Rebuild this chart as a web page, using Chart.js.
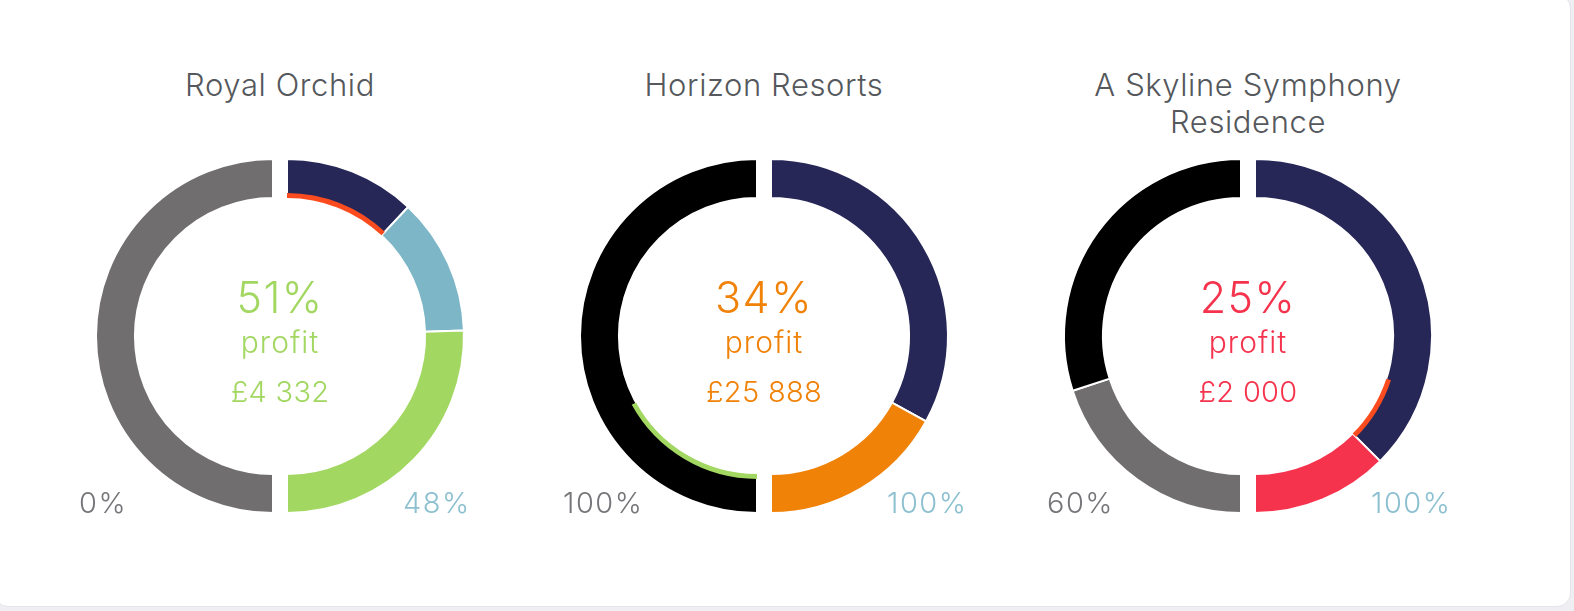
<!DOCTYPE html>
<html>
<head>
<meta charset="utf-8">
<script src="https://cdn.jsdelivr.net/npm/chart.js@4.4.1/dist/chart.umd.min.js"></script>
<style>
    body {
        margin: 0;
        width: 1574px;
        height: 611px;
        overflow: hidden;
        background: #eeeef3;
        font-family: 'Inter', 'Lato', sans-serif;
        font-weight: 300;
    }
    .card {
        position: absolute;
        left: -6px;
        top: -6px;
        width: 1577px;
        height: 613px;
        background: #fff;
        border: 1px solid #e4e4ea;
        border-radius: 14px;
        box-sizing: border-box;
    }
    .title {
        position: absolute;
        width: 360px;
        text-align: center;
        font-size: 31px;
        line-height: 37px;
        color: #55585c;
        letter-spacing: 0.6px;
    }
    .ring {
        position: absolute;
        width: 380px;
        height: 356px;
    }
    .center-text {
        position: absolute;
        width: 200px;
        text-align: center;
        white-space: nowrap;
    }
    .pct { font-size: 43px; line-height: 50px; letter-spacing: 1.5px; }
    .word { font-size: 30px; line-height: 36px; letter-spacing: 1px; }
    .amount { font-size: 29px; line-height: 36px; letter-spacing: 0.3px; }
    .side {
        position: absolute;
        font-size: 29px;
        line-height: 34px;
        letter-spacing: 1.5px;
        white-space: nowrap;
    }
    .side.left { color: #76767a; }
    .side.right { color: #8cc0d0; }
</style>
</head>
<body>
<div class="card"></div>
<div id="charts"></div>

<script>
// Data
const hotels = ['Royal Orchid', 'Horizon Resorts', 'A Skyline Symphony Residence'];
const profitPct = [51, 34, 25];
const profitAmount = ['£4 332', '£25 888', '£2 000'];
const leftLabels = ['0%', '100%', '60%'];
const rightLabels = ['48%', '100%', '100%'];

// Thick ring, clockwise from 12 o'clock: right half sums to 100, left half sums to 100
const ringValues = [
    [24, 25, 51, 100],
    [66, 34, 100],
    [75, 25, 40, 60]
];
// Thin marker ring on the inside edge, same layout
const markerValues = [
    [24, 76, 100],
    [100, 34, 66],
    [60, 15, 25, 100]
];

// Colours
const navy = '#262757';
const ringColors = [
    [navy, '#7db6c7', '#a2d762', '#706e6f'],
    [navy, '#f08208', '#000000'],
    [navy, '#f5334d', '#706e6f', '#000000']
];
const markerColors = [
    ['#fc4c1f', 'transparent', 'transparent'],
    ['transparent', '#a2d762', 'transparent'],
    ['transparent', '#fc4c1f', 'transparent', 'transparent']
];
const accent = ['#a2d762', '#f08208', '#f5334d'];

// Layout
const centersX = [280, 764, 1248];
const centerY = 336;

// Pull the left and right halves apart and let the marker sit over the ring
const splitHalves = {
    id: 'splitHalves',
    beforeDatasetsDraw(chart, args, opts) {
        const ring = chart.getDatasetMeta(0);
        const marker = chart.getDatasetMeta(1);
        const cx = (chart.chartArea.left + chart.chartArea.right) / 2;
        const innerR = marker.data[0].innerRadius;
        [ring, marker].forEach(meta => {
            meta.data.forEach(arc => {
                const mid = (arc.startAngle + arc.endAngle) / 2;
                arc.x = cx + (Math.cos(mid) > 0 ? opts.shift : -opts.shift);
            });
        });
        ring.data.forEach(arc => {
            arc.innerRadius = innerR;
        });
    }
};

const holder = document.getElementById('charts');

hotels.forEach((name, i) => {
    const cx = centersX[i];

    const title = document.createElement('div');
    title.className = 'title';
    title.textContent = name;
    title.style.left = (cx - 180) + 'px';
    title.style.top = '66px';
    holder.appendChild(title);

    const box = document.createElement('div');
    box.className = 'ring';
    box.style.left = (cx - 190) + 'px';
    box.style.top = (centerY - 178) + 'px';
    const canvas = document.createElement('canvas');
    box.appendChild(canvas);
    holder.appendChild(box);

    const lines = [
        ['pct', profitPct[i] + '%', 272],
        ['word', 'profit', 324],
        ['amount', profitAmount[i], 374]
    ];
    lines.forEach(([cls, text, top]) => {
        const el = document.createElement('div');
        el.className = 'center-text ' + cls;
        el.textContent = text;
        el.style.left = (cx - 100) + 'px';
        el.style.top = top + 'px';
        el.style.color = accent[i];
        holder.appendChild(el);
    });

    const leftLbl = document.createElement('div');
    leftLbl.className = 'side left';
    leftLbl.textContent = leftLabels[i];
    leftLbl.style.left = (cx - 201) + 'px';
    leftLbl.style.top = '486px';
    holder.appendChild(leftLbl);

    const rightLbl = document.createElement('div');
    rightLbl.className = 'side right';
    rightLbl.textContent = rightLabels[i];
    rightLbl.style.left = (cx + 123) + 'px';
    rightLbl.style.top = '486px';
    holder.appendChild(rightLbl);

    new Chart(canvas, {
        type: 'doughnut',
        data: {
            datasets: [
                {
                    data: ringValues[i],
                    backgroundColor: ringColors[i],
                    borderColor: '#ffffff',
                    borderWidth: 2,
                    weight: 7,
                    order: 1
                },
                {
                    data: markerValues[i],
                    backgroundColor: markerColors[i],
                    borderWidth: 0,
                    weight: 1,
                    order: 0
                }
            ]
        },
        options: {
            responsive: true,
            maintainAspectRatio: false,
            animation: false,
            events: [],
            cutout: '78%',
            rotation: 0,
            plugins: {
                legend: { display: false },
                tooltip: { enabled: false },
                splitHalves: { shift: 7 }
            }
        },
        plugins: [splitHalves]
    });
});
</script>
</body>
</html>
